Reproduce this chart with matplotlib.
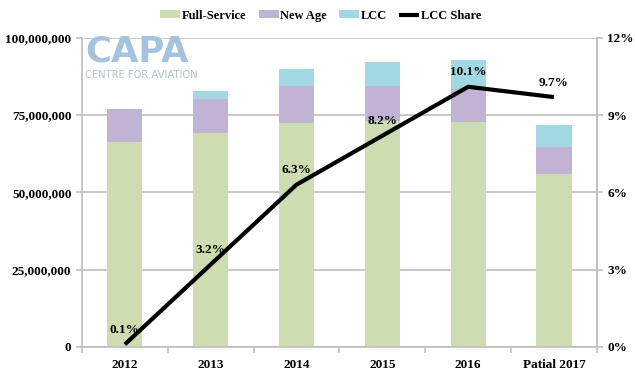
import matplotlib.pyplot as plt
import numpy as np
from matplotlib.ticker import FuncFormatter

# data
years = ['2012', '2013', '2014', '2015', '2016', 'Patial 2017']
full_service = [66.3, 69.3, 72.5, 73.1, 72.8, 56.1]   # millions
new_age = [10.6, 11.0, 12.0, 11.4, 10.7, 8.6]
lcc = [0.1, 2.6, 5.5, 7.7, 9.4, 7.1]
lcc_share = [0.1, 3.2, 6.3, 8.2, 10.1, 9.7]            # percent

plt.rcParams['font.family'] = ['Liberation Serif', 'DejaVu Serif']
plt.rcParams['font.weight'] = 'bold'

c_fs = '#cddcb1'
c_na = '#c0b3d3'
c_lcc = '#a1d8e3'
grid_c = '#bfbfbf'

fig = plt.figure(figsize=(6.35, 3.77), dpi=100)
ax = fig.add_axes([0.129, 0.0796, 0.811, 0.82])

x = np.arange(len(years))
fs = np.array(full_service) * 1e6
na = np.array(new_age) * 1e6
lc = np.array(lcc) * 1e6

w = 0.41
ax.bar(x, fs, w, color=c_fs, label='Full-Service', zorder=2)
ax.bar(x, na, w, bottom=fs, color=c_na, label='New Age', zorder=2)
ax.bar(x, lc, w, bottom=fs + na, color=c_lcc, label='LCC', zorder=2)

ax.set_xlim(-0.5, len(years) - 0.5)
ax.set_ylim(0, 100e6)
ax.set_yticks(np.arange(0, 100e6 + 1, 25e6))
ax.yaxis.set_major_formatter(FuncFormatter(lambda v, p: '{:,.0f}'.format(v)))
ax.grid(axis='y', color=grid_c, linewidth=1.2, zorder=0)
ax.set_axisbelow(True)

ax.set_xticks(x)
ax.set_xticklabels(years)
ax.set_xticks(np.arange(-0.5, len(years)), minor=True)
ax.tick_params(axis='x', which='major', length=0, pad=9, labelsize=9.5)
ax.tick_params(axis='x', which='minor', length=4, color=grid_c, width=1.2)
ax.tick_params(axis='y', length=4, color=grid_c, width=1.2, labelsize=9.5)

for s in ['left', 'right', 'bottom']:
    ax.spines[s].set_color(grid_c)
    ax.spines[s].set_linewidth(1.2)
ax.spines['top'].set_visible(False)

# LCC share on right axis
ax2 = ax.twinx()
ax2.plot(x, lcc_share, color='black', linewidth=3, label='LCC Share', zorder=5,
         solid_capstyle='butt')
ax2.set_ylim(0, 12)
ax2.set_yticks(np.arange(0, 13, 3))
ax2.yaxis.set_major_formatter(FuncFormatter(lambda v, p: '{:.0f}%'.format(v)))
ax2.tick_params(axis='y', length=4, color=grid_c, width=1.2, labelsize=9.5)
for s in ax2.spines.values():
    s.set_visible(False)
ax2.spines['right'].set_visible(True)
ax2.spines['right'].set_color(grid_c)
ax2.spines['right'].set_linewidth(1.2)

for xi, v in zip(x, lcc_share):
    ax2.annotate('{:.1f}%'.format(v), (xi, v), xytext=(0, 10.5), textcoords='offset points',
                 ha='center', va='center', fontsize=9.5, fontweight='bold', zorder=6)

# CAPA watermark
fig.text(0.134, 1 - 69 / 377, 'CAPA', fontsize=25.5, fontweight='bold', color='#a3c3de',
         family='DejaVu Sans', va='bottom', ha='left')
fig.text(0.134, 1 - 70 / 377, 'CENTRE FOR AVIATION', fontsize=7.2, color='#b4c2cc',
         family='DejaVu Sans', fontweight='normal', va='top', ha='left')

h1, l1 = ax.get_legend_handles_labels()
h2, l2 = ax2.get_legend_handles_labels()
fig.legend(h1 + h2, l1 + l2, loc='center', bbox_to_anchor=(0.505, 0.958), ncol=4,
           frameon=False, fontsize=9, handlelength=1.6, handleheight=0.6,
           columnspacing=1.0, handletextpad=0.1)

fig.savefig('out.png', dpi=100)
